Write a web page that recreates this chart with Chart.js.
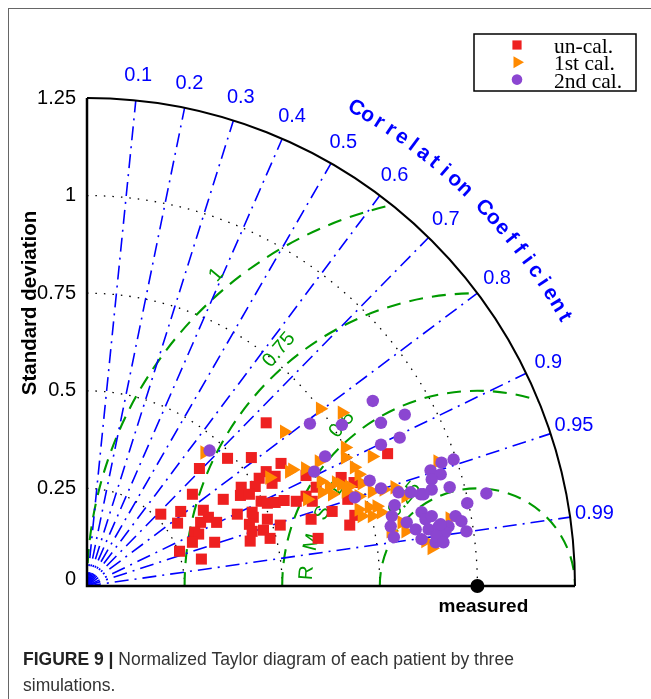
<!DOCTYPE html>
<html>
<head>
<meta charset="utf-8">
<script src="https://cdn.jsdelivr.net/npm/chart.js@4.4.1/dist/chart.umd.min.js"></script>
<style>
  html, body { margin: 0; padding: 0; background: #fff; }
  #wrap { position: relative; width: 651px; height: 699px; overflow: hidden; }
  #frame { position: absolute; left: 8px; top: 8px; right: 0; bottom: 0; border-top: 1px solid #666; border-left: 1px solid #666; pointer-events: none; }
  #caption { position: absolute; left: 23px; top: 646px; font: 17.5px "Liberation Sans", Arial, sans-serif; color: #333; line-height: 26px; white-space: nowrap; }
  #caption b { color: #222; }
</style>
</head>
<body>
<div id="wrap">
  <canvas id="taylor"></canvas>
  <div id="frame"></div>
  <div id="caption"><b>FIGURE 9 |</b> Normalized Taylor diagram of each patient by three<br>simulations.</div>
</div>
<script>
// ejes y marcas del diagrama
const stdMax = 1.25;
const stdTicks = [0, 0.25, 0.5, 0.75, 1, 1.25];
const stdTickLabels = ['0', '0.25', '0.5', '0.75', '1', '1.25'];
const corrTicks = [0.1, 0.2, 0.3, 0.4, 0.5, 0.6, 0.7, 0.8, 0.9, 0.95, 0.99];
const rmsTicks = [0.25, 0.5, 0.75, 1];
const rmsTickLabels = ['0.25', '0.5', '0.75', '1'];
const measured = [1, 0];

// puntos por paciente, [std*corr, std*sin] normalizados
const unCal = [
  [0.459,0.418],[0.360,0.327],[0.421,0.329],[0.288,0.301],[0.497,0.314],[0.459,0.293],[0.441,0.276],
  [0.482,0.281],[0.395,0.253],[0.431,0.255],[0.270,0.235],[0.349,0.222],[0.393,0.232],[0.416,0.235],
  [0.446,0.217],[0.462,0.212],[0.482,0.214],[0.189,0.184],[0.240,0.191],[0.298,0.194],[0.311,0.176],
  [0.232,0.161],[0.291,0.163],[0.332,0.163],[0.385,0.184],[0.423,0.189],[0.426,0.176],[0.462,0.171],
  [0.416,0.158],[0.423,0.140],[0.452,0.143],[0.469,0.122],[0.276,0.138],[0.286,0.133],[0.270,0.112],
  [0.327,0.112],[0.418,0.115],[0.237,0.089],[0.293,0.069],[0.561,0.283],[0.587,0.253],[0.651,0.278],
  [0.684,0.265],[0.505,0.219],[0.536,0.217],[0.561,0.230],[0.577,0.217],[0.668,0.222],[0.628,0.191],
  [0.574,0.171],[0.686,0.181],[0.495,0.156],[0.673,0.156],[0.592,0.122],[0.770,0.339],[0.474,0.263]
];
const cal1 = [
  [0.301,0.342],[0.467,0.278],[0.597,0.454],[0.653,0.444],[0.505,0.395],[0.661,0.355],[0.661,0.329],
  [0.730,0.332],[0.526,0.298],[0.559,0.301],[0.594,0.319],[0.684,0.304],[0.696,0.286],[0.599,0.268],
  [0.620,0.255],[0.651,0.260],[0.671,0.255],[0.704,0.263],[0.602,0.240],[0.628,0.235],[0.663,0.242],
  [0.696,0.230],[0.564,0.222],[0.730,0.242],[0.760,0.247],[0.788,0.253],[0.816,0.230],[0.696,0.196],
  [0.722,0.202],[0.742,0.204],[0.704,0.179],[0.730,0.179],[0.753,0.189],[0.778,0.140],[0.816,0.140],
  [0.898,0.319],[0.929,0.173],[0.867,0.115],[0.883,0.097],[0.518,0.293],[0.638,0.265],[0.806,0.163]
];
const cal2 = [
  [0.314,0.347],[0.732,0.474],[0.814,0.439],[0.571,0.416],[0.653,0.413],[0.753,0.418],[0.801,0.380],
  [0.753,0.362],[0.610,0.332],[0.582,0.293],[0.724,0.270],[0.753,0.250],[0.686,0.227],[0.798,0.240],
  [0.829,0.240],[0.855,0.235],[0.880,0.296],[0.908,0.316],[0.939,0.324],[0.906,0.286],[0.883,0.273],
  [0.929,0.253],[0.883,0.247],[0.788,0.207],[0.781,0.179],[0.778,0.153],[0.786,0.125],[0.819,0.163],
  [0.857,0.189],[0.867,0.171],[0.883,0.179],[0.842,0.145],[0.875,0.145],[0.901,0.153],[0.913,0.133],
  [0.893,0.112],[0.857,0.120],[0.944,0.179],[0.926,0.153],[1.023,0.237],[0.974,0.212],[0.959,0.166],
  [0.972,0.140],[0.918,0.138],[0.906,0.158],[0.895,0.128],[0.913,0.112],[0.862,0.235]
];

const BLUE = '#0000ff';
const GREEN = '#009a00';
const SANS = '"Liberation Sans", Arial, sans-serif';

function toXY(arr) {
    return arr.map(p => ({ x: p[0], y: p[1] }));
}

// dibuja un texto letra por letra sobre un arco
function textOnArc(ctx, text, cx, cy, r, startDeg, stepDeg) {
    for (let i = 0; i < text.length; i++) {
        const a = (startDeg - i * stepDeg) * Math.PI / 180;
        ctx.save();
        ctx.translate(cx + r * Math.cos(a), cy - r * Math.sin(a));
        ctx.rotate(Math.PI / 2 - a);
        ctx.fillText(text[i], 0, 0);
        ctx.restore();
    }
}

const taylorGrid = {
    id: 'taylorGrid',
    beforeDatasetsDraw(chart) {
        const ctx = chart.ctx;
        const sx = chart.scales.x, sy = chart.scales.y;
        const ox = sx.getPixelForValue(0), oy = sy.getPixelForValue(0);
        const unit = sx.getPixelForValue(1) - ox;
        const R = stdMax * unit;
        const mx = sx.getPixelForValue(measured[0]), my = sy.getPixelForValue(measured[1]);

        ctx.save();
        ctx.beginPath();
        ctx.moveTo(ox, oy);
        ctx.arc(ox, oy, R, -Math.PI / 2, 0);
        ctx.closePath();
        ctx.clip();

        // arcos de desviacion estandar (punteados)
        ctx.strokeStyle = '#000';
        ctx.lineWidth = 1.3;
        ctx.setLineDash([1.5, 7]);
        stdTicks.forEach(s => {
            if (s > 0 && s < stdMax) {
                ctx.beginPath();
                ctx.arc(ox, oy, s * unit, -Math.PI / 2, 0);
                ctx.stroke();
            }
        });

        // arcos RMS (verde discontinuo)
        ctx.strokeStyle = GREEN;
        ctx.lineWidth = 2.1;
        ctx.setLineDash([14, 9]);
        rmsTicks.forEach(r => {
            ctx.beginPath();
            ctx.arc(mx, my, r * unit, Math.PI, 2 * Math.PI);
            ctx.stroke();
        });

        // lineas de correlacion (azul punto-raya)
        ctx.strokeStyle = BLUE;
        ctx.lineWidth = 1.6;
        ctx.setLineDash([14, 6, 2, 6]);
        corrTicks.forEach(c => {
            const s = Math.sqrt(1 - c * c);
            ctx.beginPath();
            ctx.moveTo(ox, oy);
            ctx.lineTo(sx.getPixelForValue(stdMax * c), sy.getPixelForValue(stdMax * s));
            ctx.stroke();
        });
        ctx.restore();

        // marco
        ctx.save();
        ctx.strokeStyle = '#000';
        ctx.lineWidth = 2;
        ctx.beginPath();
        ctx.arc(ox, oy, R, -Math.PI / 2, 0);
        ctx.stroke();
        ctx.lineWidth = 2.5;
        ctx.beginPath();
        ctx.moveTo(ox, sy.getPixelForValue(stdMax));
        ctx.lineTo(ox, oy);
        ctx.lineTo(sx.getPixelForValue(stdMax), oy);
        ctx.stroke();

        // etiquetas de desviacion estandar
        ctx.fillStyle = '#000';
        ctx.font = '20px ' + SANS;
        ctx.textAlign = 'right';
        ctx.textBaseline = 'middle';
        stdTicks.forEach((s, i) => {
            const y = sy.getPixelForValue(s) + (s === 0 ? -7 : 0);
            ctx.fillText(stdTickLabels[i], ox - 11, y);
        });

        ctx.save();
        ctx.font = 'bold 20.5px ' + SANS;
        ctx.textAlign = 'center';
        ctx.translate(30, sy.getPixelForValue(0.725));
        ctx.rotate(-Math.PI / 2);
        ctx.fillText('Standard deviation', 0, 0);
        ctx.restore();

        // etiquetas de correlacion
        ctx.fillStyle = BLUE;
        ctx.textAlign = 'center';
        ctx.font = '20px ' + SANS;
        corrTicks.forEach(c => {
            const s = Math.sqrt(1 - c * c);
            ctx.fillText(String(c), sx.getPixelForValue(1.313 * c), sy.getPixelForValue(1.313 * s));
        });
        ctx.font = 'bold 21px ' + SANS;
        textOnArc(ctx, 'Correlation Coefficient', ox, oy, 1.404 * unit, 60.6, 1.418);

        // etiquetas RMS
        ctx.fillStyle = GREEN;
        ctx.font = '20px ' + SANS;
        const la = 130 * Math.PI / 180;
        rmsTicks.forEach((r, i) => {
            const d = (r + 0.04) * unit;
            ctx.save();
            ctx.translate(mx + d * Math.cos(la), my - d * Math.sin(la));
            ctx.rotate(-50 * Math.PI / 180);
            ctx.fillText(rmsTickLabels[i], 0, 0);
            ctx.restore();
        });
        textOnArc(ctx, 'RMSD', mx, my, 0.438 * unit, 175.6, 10.4);

        // etiqueta del punto medido
        ctx.fillStyle = '#000';
        ctx.font = 'bold 19px ' + SANS;
        ctx.fillText('measured', mx + 6, my + 21);
        ctx.restore();
    },
    afterDraw(chart) {
        const ctx = chart.ctx;
        const items = [
            { text: 'un-cal.', color: '#ee2020', style: 'rect', radius: 6.5, rotation: 0 },
            { text: '1st cal.', color: '#ff8a00', style: 'triangle', radius: 7, rotation: 90 },
            { text: '2nd cal.', color: '#8b46d1', style: 'circle', radius: 5.3, rotation: 0 }
        ];
        ctx.save();
        ctx.fillStyle = '#fff';
        ctx.fillRect(474, 34, 162, 57);
        ctx.strokeStyle = '#000';
        ctx.lineWidth = 1.5;
        ctx.strokeRect(474, 34, 162, 57);
        ctx.font = '21.5px "Liberation Serif", "Times New Roman", serif';
        ctx.textAlign = 'left';
        ctx.textBaseline = 'alphabetic';
        items.forEach((it, i) => {
            const y = 45 + i * 17.3;
            ctx.fillStyle = it.color;
            Chart.helpers.drawPoint(ctx, { pointStyle: it.style, rotation: it.rotation, radius: it.radius, borderWidth: 0 }, 517, y);
            ctx.fillStyle = '#000';
            ctx.fillText(it.text, 554, y + 8);
        });
        ctx.restore();
    }
};

new Chart(document.getElementById('taylor'), {
    type: 'scatter',
    data: {
        datasets: [
            {
                label: 'measured',
                data: [{ x: measured[0], y: measured[1] }],
                pointStyle: 'circle',
                pointRadius: 7,
                pointBackgroundColor: '#000',
                backgroundColor: '#000',
                pointBorderWidth: 0,
                clip: false,
                order: 0
            },
            {
                label: '2nd cal.',
                data: toXY(cal2),
                pointStyle: 'circle',
                pointRadius: 6.2,
                pointBackgroundColor: '#8b46d1',
                backgroundColor: '#8b46d1',
                pointBorderWidth: 0,
                clip: false,
                order: 1
            },
            {
                label: '1st cal.',
                data: toXY(cal1),
                pointStyle: 'triangle',
                pointRotation: 90,
                pointRadius: 8.3,
                pointBackgroundColor: '#ff8a00',
                backgroundColor: '#ff8a00',
                pointBorderWidth: 0,
                clip: false,
                order: 2
            },
            {
                label: 'un-cal.',
                data: toXY(unCal),
                pointStyle: 'rect',
                pointRadius: 7.8,
                pointBackgroundColor: '#ee2020',
                backgroundColor: '#ee2020',
                pointBorderWidth: 0,
                clip: false,
                order: 3
            }
        ]
    },
    options: {
        animation: false,
        responsive: true,
        maintainAspectRatio: false,
        layout: {
            padding: { left: 87, top: 98, right: 76, bottom: 113 }
        },
        scales: {
            x: { type: 'linear', min: 0, max: stdMax, display: false },
            y: { type: 'linear', min: 0, max: stdMax, display: false }
        },
        plugins: {
            legend: { display: false },
            tooltip: { enabled: false }
        }
    },
    plugins: [taylorGrid]
});
</script>
</body>
</html>
